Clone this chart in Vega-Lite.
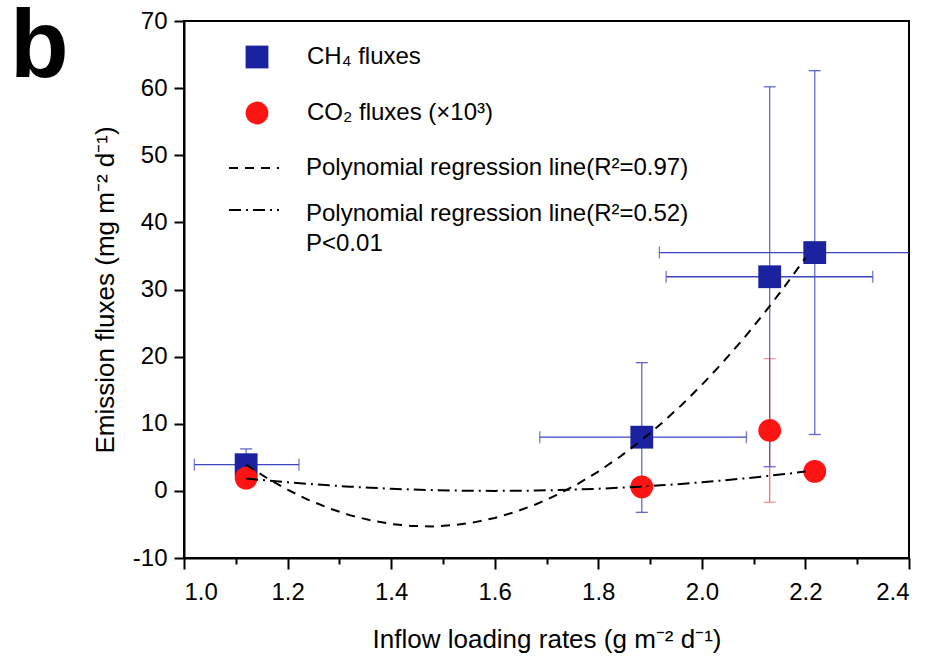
{
  "$schema": "https://vega.github.io/schema/vega-lite/v6.json",
  "width": 725,
  "height": 537,
  "autosize": {"type": "none"},
  "padding": {"left": 184, "top": 21, "right": 21, "bottom": 100},
  "background": "white",
  "title": {"text": "b", "anchor": "start", "frame": "group", "fontSize": 96, "fontWeight": "bold", "font": "Liberation Sans", "color": "black", "baseline": "top", "offset": 0, "dx": -174, "dy": 88},
  "datasets": {
    "pts": [
      {"series": "CH₄ fluxes", "x": 1.12, "y": 3.9, "xlo": 1.02, "xhi": 1.222, "ylo": 1.55, "yhi": 6.25},
      {"series": "CH₄ fluxes", "x": 1.884, "y": 8.0, "xlo": 1.687, "xhi": 2.086, "ylo": -3.2, "yhi": 19.1},
      {"series": "CH₄ fluxes", "x": 2.131, "y": 31.9, "xlo": 1.931, "xhi": 2.33, "ylo": 3.6, "yhi": 60.2},
      {"series": "CH₄ fluxes", "x": 2.218, "y": 35.5, "xlo": 1.918, "xhi": 2.518, "ylo": 8.4, "yhi": 62.6},
      {"series": "CO₂ fluxes (×10³)", "x": 1.12, "y": 1.9, "ylo": 1.4, "yhi": 2.4},
      {"series": "CO₂ fluxes (×10³)", "x": 1.884, "y": 0.6, "ylo": 0.2, "yhi": 1.0},
      {"series": "CO₂ fluxes (×10³)", "x": 2.131, "y": 9.0, "ylo": -1.7, "yhi": 19.7},
      {"series": "CO₂ fluxes (×10³)", "x": 2.218, "y": 2.9, "ylo": 1.5, "yhi": 4.3}
    ],
    "fits": [
      {"fit": "Polynomial regression line(R²=0.97)", "x": 1.12, "y": 3.9},
      {"fit": "Polynomial regression line(R²=0.97)", "x": 1.16, "y": 1.92},
      {"fit": "Polynomial regression line(R²=0.97)", "x": 1.2, "y": 0.17},
      {"fit": "Polynomial regression line(R²=0.97)", "x": 1.24, "y": -1.33},
      {"fit": "Polynomial regression line(R²=0.97)", "x": 1.28, "y": -2.59},
      {"fit": "Polynomial regression line(R²=0.97)", "x": 1.32, "y": -3.61},
      {"fit": "Polynomial regression line(R²=0.97)", "x": 1.36, "y": -4.39},
      {"fit": "Polynomial regression line(R²=0.97)", "x": 1.4, "y": -4.93},
      {"fit": "Polynomial regression line(R²=0.97)", "x": 1.44, "y": -5.23},
      {"fit": "Polynomial regression line(R²=0.97)", "x": 1.48, "y": -5.29},
      {"fit": "Polynomial regression line(R²=0.97)", "x": 1.52, "y": -5.11},
      {"fit": "Polynomial regression line(R²=0.97)", "x": 1.56, "y": -4.69},
      {"fit": "Polynomial regression line(R²=0.97)", "x": 1.6, "y": -4.03},
      {"fit": "Polynomial regression line(R²=0.97)", "x": 1.64, "y": -3.13},
      {"fit": "Polynomial regression line(R²=0.97)", "x": 1.68, "y": -1.99},
      {"fit": "Polynomial regression line(R²=0.97)", "x": 1.72, "y": -0.61},
      {"fit": "Polynomial regression line(R²=0.97)", "x": 1.76, "y": 1.02},
      {"fit": "Polynomial regression line(R²=0.97)", "x": 1.8, "y": 2.88},
      {"fit": "Polynomial regression line(R²=0.97)", "x": 1.84, "y": 4.98},
      {"fit": "Polynomial regression line(R²=0.97)", "x": 1.88, "y": 7.32},
      {"fit": "Polynomial regression line(R²=0.97)", "x": 1.92, "y": 9.91},
      {"fit": "Polynomial regression line(R²=0.97)", "x": 1.96, "y": 12.73},
      {"fit": "Polynomial regression line(R²=0.97)", "x": 2.0, "y": 15.8},
      {"fit": "Polynomial regression line(R²=0.97)", "x": 2.04, "y": 19.1},
      {"fit": "Polynomial regression line(R²=0.97)", "x": 2.08, "y": 22.64},
      {"fit": "Polynomial regression line(R²=0.97)", "x": 2.12, "y": 26.43},
      {"fit": "Polynomial regression line(R²=0.97)", "x": 2.16, "y": 30.46},
      {"fit": "Polynomial regression line(R²=0.97)", "x": 2.2, "y": 34.72},
      {"fit": "Polynomial regression line(R²=0.52)", "x": 1.12, "y": 1.84},
      {"fit": "Polynomial regression line(R²=0.52)", "x": 1.16, "y": 1.55},
      {"fit": "Polynomial regression line(R²=0.52)", "x": 1.2, "y": 1.28},
      {"fit": "Polynomial regression line(R²=0.52)", "x": 1.24, "y": 1.04},
      {"fit": "Polynomial regression line(R²=0.52)", "x": 1.28, "y": 0.82},
      {"fit": "Polynomial regression line(R²=0.52)", "x": 1.32, "y": 0.63},
      {"fit": "Polynomial regression line(R²=0.52)", "x": 1.36, "y": 0.46},
      {"fit": "Polynomial regression line(R²=0.52)", "x": 1.4, "y": 0.32},
      {"fit": "Polynomial regression line(R²=0.52)", "x": 1.44, "y": 0.2},
      {"fit": "Polynomial regression line(R²=0.52)", "x": 1.48, "y": 0.12},
      {"fit": "Polynomial regression line(R²=0.52)", "x": 1.52, "y": 0.05},
      {"fit": "Polynomial regression line(R²=0.52)", "x": 1.56, "y": 0.01},
      {"fit": "Polynomial regression line(R²=0.52)", "x": 1.6, "y": 0.0},
      {"fit": "Polynomial regression line(R²=0.52)", "x": 1.64, "y": 0.01},
      {"fit": "Polynomial regression line(R²=0.52)", "x": 1.68, "y": 0.05},
      {"fit": "Polynomial regression line(R²=0.52)", "x": 1.72, "y": 0.12},
      {"fit": "Polynomial regression line(R²=0.52)", "x": 1.76, "y": 0.2},
      {"fit": "Polynomial regression line(R²=0.52)", "x": 1.8, "y": 0.32},
      {"fit": "Polynomial regression line(R²=0.52)", "x": 1.84, "y": 0.46},
      {"fit": "Polynomial regression line(R²=0.52)", "x": 1.88, "y": 0.63},
      {"fit": "Polynomial regression line(R²=0.52)", "x": 1.92, "y": 0.82},
      {"fit": "Polynomial regression line(R²=0.52)", "x": 1.96, "y": 1.04},
      {"fit": "Polynomial regression line(R²=0.52)", "x": 2.0, "y": 1.28},
      {"fit": "Polynomial regression line(R²=0.52)", "x": 2.04, "y": 1.55},
      {"fit": "Polynomial regression line(R²=0.52)", "x": 2.08, "y": 1.84},
      {"fit": "Polynomial regression line(R²=0.52)", "x": 2.12, "y": 2.16},
      {"fit": "Polynomial regression line(R²=0.52)", "x": 2.16, "y": 2.51},
      {"fit": "Polynomial regression line(R²=0.52)", "x": 2.2, "y": 2.88}
    ]
  },
  "layer": [
    {
      "data": {"name": "pts"},
      "transform": [{"filter": "isValid(datum.xlo)"}],
      "mark": {"type": "rule", "clip": true, "color": "#3c46c0", "strokeWidth": 1.3},
      "encoding": {
        "x": {"field": "xlo", "type": "quantitative", "scale": {"domain": [1.0, 2.4], "nice": false}},
        "x2": {"field": "xhi"},
        "y": {"field": "y", "type": "quantitative"}
      }
    },
    {
      "data": {"name": "pts"},
      "transform": [{"filter": "isValid(datum.xlo)"}, {"fold": ["xlo", "xhi"], "as": ["k", "cap"]}],
      "mark": {"type": "tick", "orient": "vertical", "clip": true, "color": "#3c46c0", "size": 12, "thickness": 1.3},
      "encoding": {
        "x": {"field": "cap", "type": "quantitative"},
        "y": {"field": "y", "type": "quantitative"}
      }
    },
    {
      "data": {"name": "pts"},
      "transform": [{"filter": "datum.series == 'CO₂ fluxes (×10³)'"}],
      "mark": {"type": "rule", "strokeWidth": 1.3, "color": "#ff6a6a"},
      "encoding": {
        "x": {"field": "x", "type": "quantitative"},
        "y": {"field": "ylo", "type": "quantitative"},
        "y2": {"field": "yhi"}
      }
    },
    {
      "data": {"name": "pts"},
      "transform": [{"filter": "datum.series == 'CO₂ fluxes (×10³)'"}, {"fold": ["ylo", "yhi"], "as": ["k", "cap"]}],
      "mark": {"type": "tick", "orient": "horizontal", "size": 12, "thickness": 1.3, "color": "#ff6a6a"},
      "encoding": {
        "x": {"field": "x", "type": "quantitative"},
        "y": {"field": "cap", "type": "quantitative"}
      }
    },
    {
      "data": {"name": "pts"},
      "transform": [{"filter": "datum.series == 'CH₄ fluxes'"}],
      "mark": {"type": "rule", "strokeWidth": 1.3, "color": "#4650c4", "opacity": 0.85},
      "encoding": {
        "x": {"field": "x", "type": "quantitative"},
        "y": {"field": "ylo", "type": "quantitative"},
        "y2": {"field": "yhi"}
      }
    },
    {
      "data": {"name": "pts"},
      "transform": [{"filter": "datum.series == 'CH₄ fluxes'"}, {"fold": ["ylo", "yhi"], "as": ["k", "cap"]}],
      "mark": {"type": "tick", "orient": "horizontal", "size": 12, "thickness": 1.3, "color": "#4650c4", "opacity": 0.85},
      "encoding": {
        "x": {"field": "x", "type": "quantitative"},
        "y": {"field": "cap", "type": "quantitative"}
      }
    },
    {
      "data": {"name": "pts"},
      "mark": {"type": "point", "filled": true, "opacity": 1, "size": 520, "strokeWidth": 0},
      "encoding": {
        "x": {"field": "x", "type": "quantitative", "title": "Inflow loading rates (g m⁻² d⁻¹)",
          "axis": {"values": [1.0, 1.1, 1.2, 1.3, 1.4, 1.5, 1.6, 1.7, 1.8, 1.9, 2.0, 2.1, 2.2, 2.3, 2.4],
            "labelExpr": "abs(round(datum.value*10)) % 2 == 1 ? '' : format(datum.value, '.1f')",
            "tickSize": {"condition": {"test": "abs(round(datum.value*10)) % 2 == 1", "value": 6}, "value": 11},
            "labelPadding": 11, "titlePadding": 22}},
        "y": {"field": "y", "type": "quantitative", "title": "Emission fluxes (mg m⁻² d⁻¹)",
          "scale": {"domain": [-10, 70], "nice": false},
          "axis": {"values": [-10, -5, 0, 5, 10, 15, 20, 25, 30, 35, 40, 45, 50, 55, 60, 65, 70],
            "labelExpr": "datum.value % 10 != 0 ? '' : '' + datum.value",
            "tickSize": {"condition": {"test": "datum.value % 10 != 0", "value": 6}, "value": 10},
            "labelPadding": 7, "titlePadding": 14}},
        "shape": {"field": "series", "type": "nominal", "scale": {"domain": ["CH₄ fluxes", "CO₂ fluxes (×10³)"], "range": ["square", "circle"]},
          "legend": {"orient": "none", "legendX": 61, "legendY": 24, "title": null, "padding": 0, "symbolSize": 520, "symbolStrokeWidth": 0, "symbolOpacity": 1, "labelOffset": 38, "rowPadding": 32, "labelFontSize": 24}},
        "color": {"field": "series", "type": "nominal", "scale": {"domain": ["CH₄ fluxes", "CO₂ fluxes (×10³)"], "range": ["#1b22a0", "#ff1414"]},
          "legend": {"orient": "none", "legendX": 61, "legendY": 24, "title": null, "padding": 0, "symbolSize": 520, "symbolStrokeWidth": 0, "symbolOpacity": 1, "labelOffset": 38, "rowPadding": 32, "labelFontSize": 24}}
      }
    },
    {
      "data": {"name": "fits"},
      "mark": {"type": "line", "color": "black", "strokeWidth": 2},
      "encoding": {
        "x": {"field": "x", "type": "quantitative"},
        "y": {"field": "y", "type": "quantitative"},
        "strokeDash": {"field": "fit", "type": "nominal",
          "scale": {"domain": ["Polynomial regression line(R²=0.97)", "Polynomial regression line(R²=0.52)"], "range": [[9, 7], [12, 5, 2, 5]]},
          "legend": {"orient": "none", "legendX": 44, "legendY": 121, "title": null, "padding": 0, "symbolType": "stroke", "symbolSize": 2500, "symbolStrokeColor": "black", "symbolStrokeWidth": 2, "labelOffset": 26, "rowPadding": 4, "labelFontSize": 24,
            "labelExpr": "indexof(datum.label, '0.52') >= 0 ? [datum.label, 'P<0.01'] : datum.label",
            "encode": {"labels": {"update": {"lineHeight": {"value": 30}, "dy": {"signal": "indexof(datum.label, '0.52') >= 0 ? 4 : 0"}}}}}}
      }
    }
  ],
  "config": {
    "view": {"stroke": "black", "strokeWidth": 2},
    "axis": {"domainColor": "black", "domainWidth": 2, "tickColor": "black", "tickWidth": 2, "labelColor": "black", "labelFont": "Liberation Sans", "labelFontSize": 24, "titleFont": "Liberation Sans", "titleFontSize": 26, "titleFontWeight": "normal", "titleColor": "black", "grid": false},
    "legend": {"labelFont": "Liberation Sans", "labelColor": "black", "labelLimit": 700}
  }
}
